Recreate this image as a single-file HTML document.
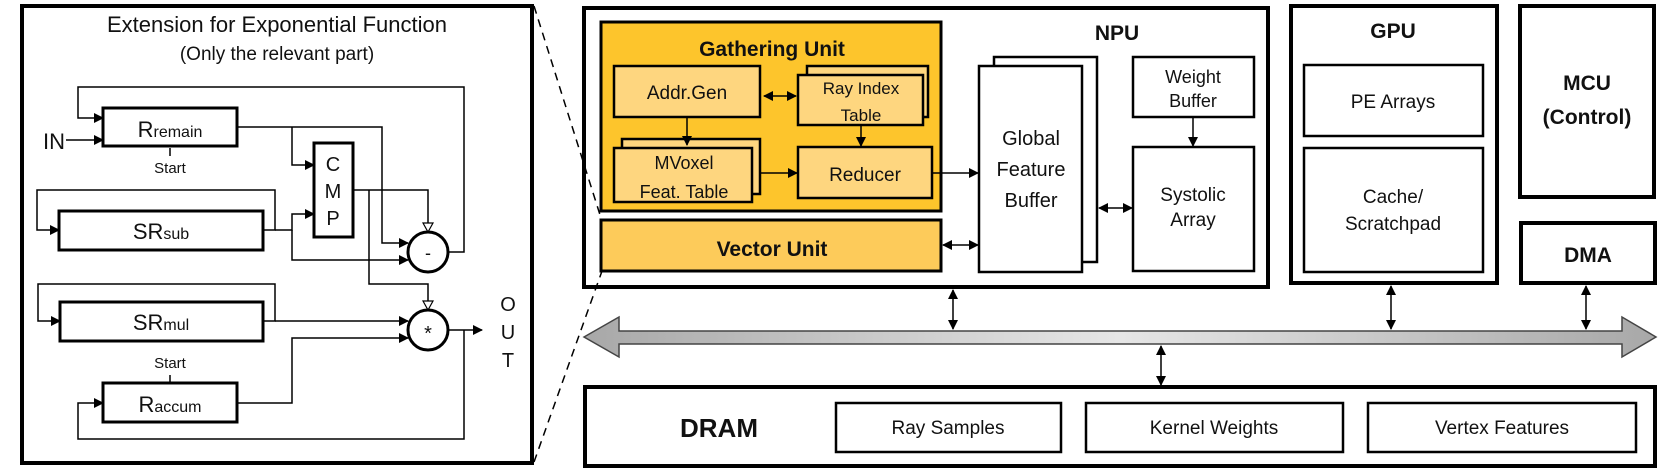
<!DOCTYPE html>
<html><head><meta charset="utf-8"><style>
html,body{margin:0;padding:0;background:#fff}
svg{display:block}
text{font-family:"Liberation Sans",Arial,sans-serif;fill:#111}
</style></head><body>
<svg width="1661" height="476" viewBox="0 0 1661 476" xmlns="http://www.w3.org/2000/svg">
<defs>
<marker id="a" markerWidth="10" markerHeight="10" refX="9" refY="5" orient="auto" markerUnits="userSpaceOnUse"><path d="M0,0 L10,5 L0,10 z" fill="#000"/></marker>
<marker id="as" markerWidth="10" markerHeight="10" refX="1" refY="5" orient="auto" markerUnits="userSpaceOnUse"><path d="M10,0 L0,5 L10,10 z" fill="#000"/></marker>
<marker id="h" markerWidth="12" markerHeight="12" refX="10" refY="6" orient="auto" markerUnits="userSpaceOnUse"><path d="M1,1 L10,6 L1,11 z" fill="#fff" stroke="#000" stroke-width="1.2"/></marker>
<linearGradient id="g" x1="0" x2="1" y1="0" y2="0"><stop offset="0" stop-color="#a8a8a8"/><stop offset="0.5" stop-color="#e6e6e6"/><stop offset="1" stop-color="#a8a8a8"/></linearGradient>
</defs>

<!-- Left panel -->
<rect x="22" y="6" width="510" height="457" fill="#fff" stroke="#000" stroke-width="4"/>
<text x="277" y="32" font-size="22" text-anchor="middle">Extension for Exponential Function</text>
<text x="277" y="60" font-size="19" text-anchor="middle" fill="#333">(Only the relevant part)</text>

<g fill="none" stroke="#000" stroke-width="1.5">
<!-- top feedback -->
<polyline points="448,252 464,252 464,87 78,87 78,118 103,118" marker-end="url(#a)"/>
<line x1="66" y1="140" x2="103" y2="140" marker-end="url(#a)"/>
<!-- Rremain out -->
<polyline points="237,127 382,127 382,243 408,243" marker-end="url(#a)"/>
<polyline points="292,127 292,165 314,165" marker-end="url(#a)"/>
<line x1="170" y1="148" x2="170" y2="156"/>
<!-- SRsub loop -->
<polyline points="263,230 275,230 275,190 37,190 37,230 59,230" marker-end="url(#a)"/>
<polyline points="275,230 292,230 292,214 314,214" marker-end="url(#a)"/>
<polyline points="292,230 292,260 408,260" marker-end="url(#a)"/>
<!-- CMP out -->
<polyline points="353,190 428,190 428,232" marker-end="url(#h)"/>
<polyline points="369,190 369,284 428,284 428,310" marker-end="url(#h)"/>
<!-- SRmul loop -->
<polyline points="263,321 275,321 275,284 38,284 38,321 60,321" marker-end="url(#a)"/>
<line x1="275" y1="321" x2="408" y2="321" marker-end="url(#a)"/>
<!-- Raccum -->
<polyline points="237,403 292,403 292,338 408,338" marker-end="url(#a)"/>
<line x1="170" y1="375" x2="170" y2="383"/>
<!-- mult out -->
<line x1="448" y1="330" x2="482" y2="330" marker-end="url(#a)"/>
<polyline points="464,330 464,439 78,439 78,403 103,403" marker-end="url(#a)"/>
</g>
<g fill="#fff" stroke="#000" stroke-width="3">
<rect x="103" y="108" width="134" height="38"/>
<rect x="59" y="211" width="204" height="39"/>
<rect x="60" y="302" width="203" height="39"/>
<rect x="103" y="383" width="134" height="39"/>
<rect x="314" y="143" width="39" height="94"/>
<circle cx="428" cy="252" r="20"/>
<circle cx="428" cy="330" r="20"/>
</g>
<text x="170" y="137" font-size="22" text-anchor="middle">R<tspan font-size="16">remain</tspan></text>
<text x="161" y="239" font-size="22" text-anchor="middle">SR<tspan font-size="16">sub</tspan></text>
<text x="161" y="330" font-size="22" text-anchor="middle">SR<tspan font-size="16">mul</tspan></text>
<text x="170" y="412" font-size="22" text-anchor="middle">R<tspan font-size="16">accum</tspan></text>
<text x="170" y="173" font-size="15" text-anchor="middle">Start</text>
<text x="170" y="368" font-size="15" text-anchor="middle">Start</text>
<text x="54" y="149" font-size="22" text-anchor="middle">IN</text>
<text x="333" y="171" font-size="20" text-anchor="middle">C</text>
<text x="333" y="198" font-size="20" text-anchor="middle">M</text>
<text x="333" y="225" font-size="20" text-anchor="middle">P</text>
<text x="428" y="259" font-size="18" text-anchor="middle">-</text>
<text x="428" y="340" font-size="20" text-anchor="middle">*</text>
<text x="508" y="311" font-size="20" text-anchor="middle">O</text>
<text x="508" y="339" font-size="20" text-anchor="middle">U</text>
<text x="508" y="367" font-size="20" text-anchor="middle">T</text>

<!-- NPU -->
<rect x="584" y="8" width="684" height="279" fill="#fff" stroke="#000" stroke-width="4"/>
<!-- dashed zoom lines -->
<line x1="534" y1="6" x2="601" y2="218" stroke="#000" stroke-width="1.5" stroke-dasharray="8,6"/>
<line x1="534" y1="462" x2="602" y2="271" stroke="#000" stroke-width="1.5" stroke-dasharray="8,6"/>
<text x="1117" y="40" font-size="21" font-weight="bold" text-anchor="middle">NPU</text>
<rect x="601" y="22" width="340" height="189" fill="#fdc52c" stroke="#000" stroke-width="3"/>
<text x="772" y="56" font-size="21" font-weight="bold" text-anchor="middle">Gathering Unit</text>
<g fill="#fed67f" stroke="#000" stroke-width="2.5">
<rect x="614" y="66" width="146" height="51"/>
<rect x="807" y="66" width="121" height="51"/>
<rect x="798" y="75" width="125" height="50"/>
<rect x="622" y="139" width="138" height="55"/>
<rect x="614" y="148" width="138" height="54"/>
<rect x="798" y="147" width="134" height="51"/>
</g>
<rect x="601" y="220" width="340" height="51" fill="#fdcb5a" stroke="#000" stroke-width="3"/>
<text x="687" y="99" font-size="19" text-anchor="middle">Addr.Gen</text>
<text x="861" y="94" font-size="17" text-anchor="middle">Ray Index</text>
<text x="861" y="121" font-size="17" text-anchor="middle">Table</text>
<text x="684" y="169" font-size="18" text-anchor="middle">MVoxel</text>
<text x="684" y="198" font-size="18" text-anchor="middle">Feat. Table</text>
<text x="865" y="181" font-size="19" text-anchor="middle">Reducer</text>
<text x="772" y="256" font-size="21" font-weight="bold" text-anchor="middle">Vector Unit</text>
<g stroke="#000" stroke-width="1.5" fill="none">
<line x1="764" y1="96" x2="796" y2="96" marker-start="url(#as)" marker-end="url(#a)"/>
<line x1="687" y1="117" x2="687" y2="145" marker-end="url(#a)"/>
<line x1="861" y1="125" x2="861" y2="146" marker-end="url(#a)"/>
<line x1="760" y1="173" x2="797" y2="173" marker-end="url(#a)"/>
<line x1="932" y1="173" x2="978" y2="173" marker-end="url(#a)"/>
<line x1="943" y1="245" x2="978" y2="245" marker-start="url(#as)" marker-end="url(#a)"/>
<line x1="1099" y1="208" x2="1132" y2="208" marker-start="url(#as)" marker-end="url(#a)"/>
<line x1="1193" y1="117" x2="1193" y2="146" marker-end="url(#a)"/>
</g>
<g fill="#fff" stroke="#000" stroke-width="2.5">
<rect x="994" y="57" width="103" height="205"/>
<rect x="979" y="66" width="103" height="206"/>
<rect x="1133" y="57" width="121" height="60"/>
<rect x="1133" y="147" width="121" height="124"/>
</g>
<text x="1031" y="145" font-size="20" text-anchor="middle">Global</text>
<text x="1031" y="176" font-size="20" text-anchor="middle">Feature</text>
<text x="1031" y="207" font-size="20" text-anchor="middle">Buffer</text>
<text x="1193" y="83" font-size="18" text-anchor="middle">Weight</text>
<text x="1193" y="107" font-size="18" text-anchor="middle">Buffer</text>
<text x="1193" y="201" font-size="19" text-anchor="middle">Systolic</text>
<text x="1193" y="226" font-size="19" text-anchor="middle">Array</text>

<!-- GPU -->
<rect x="1291" y="6" width="206" height="277" fill="#fff" stroke="#000" stroke-width="4"/>
<text x="1393" y="38" font-size="21" font-weight="bold" text-anchor="middle">GPU</text>
<rect x="1304" y="65" width="179" height="71" fill="#fff" stroke="#000" stroke-width="2.5"/>
<rect x="1304" y="148" width="179" height="124" fill="#fff" stroke="#000" stroke-width="2.5"/>
<text x="1393" y="108" font-size="19" text-anchor="middle">PE Arrays</text>
<text x="1393" y="203" font-size="19" text-anchor="middle">Cache/</text>
<text x="1393" y="230" font-size="19" text-anchor="middle">Scratchpad</text>

<!-- MCU / DMA -->
<rect x="1520" y="6" width="134" height="191" fill="#fff" stroke="#000" stroke-width="4"/>
<text x="1587" y="90" font-size="21" font-weight="bold" text-anchor="middle">MCU</text>
<text x="1587" y="124" font-size="21" font-weight="bold" text-anchor="middle">(Control)</text>
<rect x="1521" y="223" width="134" height="60" fill="#fff" stroke="#000" stroke-width="4"/>
<text x="1588" y="262" font-size="21" font-weight="bold" text-anchor="middle">DMA</text>

<!-- Bus -->
<path d="M584,337 L619,317 L619,331 L1622,331 L1622,317 L1656,337 L1622,357 L1622,344 L619,344 L619,357 Z" fill="url(#g)" stroke="#444" stroke-width="1.5"/>
<g stroke="#000" stroke-width="1.5">
<line x1="953" y1="290" x2="953" y2="329" marker-start="url(#as)" marker-end="url(#a)"/>
<line x1="1391" y1="286" x2="1391" y2="329" marker-start="url(#as)" marker-end="url(#a)"/>
<line x1="1586" y1="286" x2="1586" y2="329" marker-start="url(#as)" marker-end="url(#a)"/>
<line x1="1161" y1="346" x2="1161" y2="385" marker-start="url(#as)" marker-end="url(#a)"/>
</g>

<!-- DRAM -->
<rect x="585" y="387" width="1070" height="79" fill="#fff" stroke="#000" stroke-width="4"/>
<text x="719" y="437" font-size="26" font-weight="bold" text-anchor="middle">DRAM</text>
<g fill="#fff" stroke="#000" stroke-width="2.5">
<rect x="836" y="403" width="225" height="49"/>
<rect x="1086" y="403" width="257" height="49"/>
<rect x="1368" y="403" width="268" height="49"/>
</g>
<text x="948" y="434" font-size="19" text-anchor="middle">Ray Samples</text>
<text x="1214" y="434" font-size="19" text-anchor="middle">Kernel Weights</text>
<text x="1502" y="434" font-size="19" text-anchor="middle">Vertex Features</text>
</svg>
</body></html>
